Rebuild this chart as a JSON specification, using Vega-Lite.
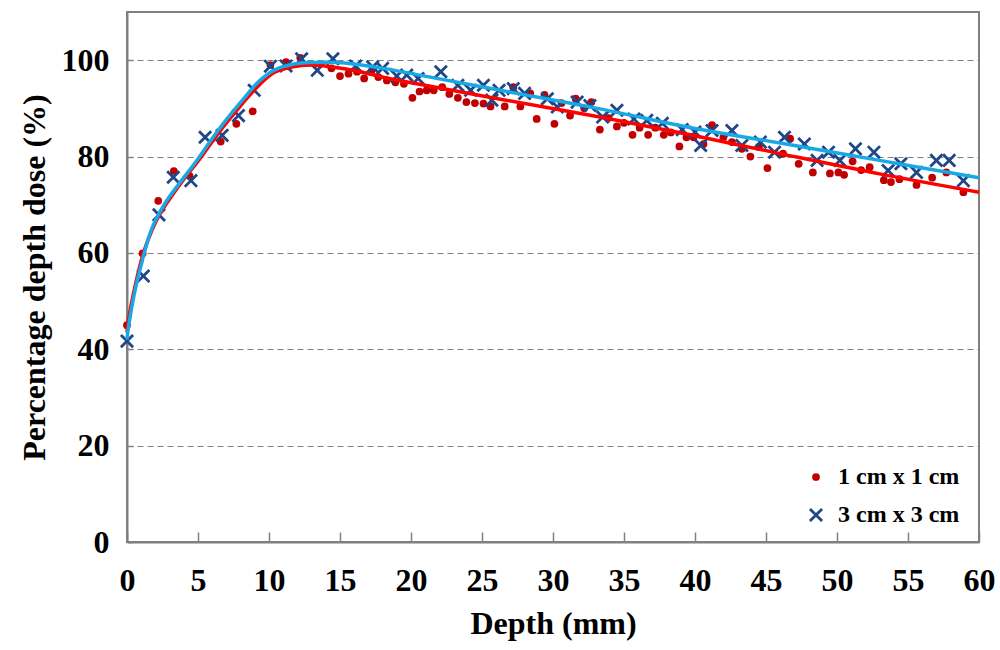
{
  "$schema": "https://vega.github.io/schema/vega-lite/v6.json",
  "width": 852,
  "height": 530,
  "autosize": {"type": "none"},
  "padding": {"left": 127, "top": 12, "right": 21, "bottom": 108},
  "background": "white",
  "config": {
    "font": "Liberation Serif",
    "view": {"stroke": "#808080", "strokeWidth": 2},
    "axis": {
      "labelFont": "Liberation Serif",
      "labelFontWeight": "bold",
      "labelFontSize": 32,
      "labelColor": "black",
      "labelFlush": false,
      "titleFont": "Liberation Serif",
      "titleFontWeight": "bold",
      "titleFontSize": 32,
      "titleColor": "black",
      "domainColor": "#808080",
      "domainWidth": 2,
      "tickColor": "#808080",
      "tickWidth": 1.5
    },
    "legend": {
      "orient": "none",
      "legendX": 677,
      "legendY": 453,
      "labelFont": "Liberation Serif",
      "labelFontWeight": "bold",
      "labelFontSize": 24,
      "labelColor": "black",
      "labelOffset": 10,
      "rowPadding": 14,
      "symbolStrokeWidth": 0
    }
  },
  "datasets": {
    "points": [
      {"depth": 0, "dose": 45, "series": "1 cm x 1 cm"},
      {"depth": 1.1, "dose": 59.9, "series": "1 cm x 1 cm"},
      {"depth": 2.2, "dose": 70.8, "series": "1 cm x 1 cm"},
      {"depth": 3.3, "dose": 77, "series": "1 cm x 1 cm"},
      {"depth": 4.4, "dose": 76, "series": "1 cm x 1 cm"},
      {"depth": 6.6, "dose": 83.1, "series": "1 cm x 1 cm"},
      {"depth": 7.7, "dose": 86.8, "series": "1 cm x 1 cm"},
      {"depth": 8.85, "dose": 89.4, "series": "1 cm x 1 cm"},
      {"depth": 10.1, "dose": 99, "series": "1 cm x 1 cm"},
      {"depth": 11.2, "dose": 99.6, "series": "1 cm x 1 cm"},
      {"depth": 12.2, "dose": 100.5, "series": "1 cm x 1 cm"},
      {"depth": 14.4, "dose": 98.3, "series": "1 cm x 1 cm"},
      {"depth": 15.0, "dose": 96.7, "series": "1 cm x 1 cm"},
      {"depth": 15.6, "dose": 97.2, "series": "1 cm x 1 cm"},
      {"depth": 16.2, "dose": 97.6, "series": "1 cm x 1 cm"},
      {"depth": 16.7, "dose": 96.2, "series": "1 cm x 1 cm"},
      {"depth": 17.2, "dose": 97.6, "series": "1 cm x 1 cm"},
      {"depth": 17.7, "dose": 96.5, "series": "1 cm x 1 cm"},
      {"depth": 18.3, "dose": 95.8, "series": "1 cm x 1 cm"},
      {"depth": 18.9, "dose": 95.4, "series": "1 cm x 1 cm"},
      {"depth": 19.5, "dose": 95.1, "series": "1 cm x 1 cm"},
      {"depth": 20.1, "dose": 92.2, "series": "1 cm x 1 cm"},
      {"depth": 20.6, "dose": 93.5, "series": "1 cm x 1 cm"},
      {"depth": 21.1, "dose": 93.75, "series": "1 cm x 1 cm"},
      {"depth": 21.6, "dose": 93.75, "series": "1 cm x 1 cm"},
      {"depth": 22.2, "dose": 94.4, "series": "1 cm x 1 cm"},
      {"depth": 22.7, "dose": 93, "series": "1 cm x 1 cm"},
      {"depth": 23.3, "dose": 92.2, "series": "1 cm x 1 cm"},
      {"depth": 23.9, "dose": 91.3, "series": "1 cm x 1 cm"},
      {"depth": 24.5, "dose": 91.1, "series": "1 cm x 1 cm"},
      {"depth": 25.1, "dose": 91, "series": "1 cm x 1 cm"},
      {"depth": 25.6, "dose": 90.4, "series": "1 cm x 1 cm"},
      {"depth": 26.6, "dose": 90.4, "series": "1 cm x 1 cm"},
      {"depth": 27.2, "dose": 94.4, "series": "1 cm x 1 cm"},
      {"depth": 27.7, "dose": 90.4, "series": "1 cm x 1 cm"},
      {"depth": 28.4, "dose": 93.1, "series": "1 cm x 1 cm"},
      {"depth": 28.85, "dose": 87.8, "series": "1 cm x 1 cm"},
      {"depth": 29.4, "dose": 92.8, "series": "1 cm x 1 cm"},
      {"depth": 30.1, "dose": 86.8, "series": "1 cm x 1 cm"},
      {"depth": 30.6, "dose": 91.1, "series": "1 cm x 1 cm"},
      {"depth": 31.2, "dose": 88.5, "series": "1 cm x 1 cm"},
      {"depth": 31.6, "dose": 92, "series": "1 cm x 1 cm"},
      {"depth": 32.2, "dose": 90, "series": "1 cm x 1 cm"},
      {"depth": 32.7, "dose": 91.3, "series": "1 cm x 1 cm"},
      {"depth": 33.3, "dose": 85.6, "series": "1 cm x 1 cm"},
      {"depth": 33.9, "dose": 88, "series": "1 cm x 1 cm"},
      {"depth": 34.5, "dose": 86.25, "series": "1 cm x 1 cm"},
      {"depth": 35.0, "dose": 87, "series": "1 cm x 1 cm"},
      {"depth": 35.6, "dose": 84.5, "series": "1 cm x 1 cm"},
      {"depth": 36.1, "dose": 86, "series": "1 cm x 1 cm"},
      {"depth": 36.7, "dose": 84.5, "series": "1 cm x 1 cm"},
      {"depth": 37.2, "dose": 86, "series": "1 cm x 1 cm"},
      {"depth": 37.8, "dose": 84.5, "series": "1 cm x 1 cm"},
      {"depth": 38.3, "dose": 85, "series": "1 cm x 1 cm"},
      {"depth": 38.9, "dose": 82.1, "series": "1 cm x 1 cm"},
      {"depth": 39.4, "dose": 84, "series": "1 cm x 1 cm"},
      {"depth": 39.9, "dose": 84, "series": "1 cm x 1 cm"},
      {"depth": 40.6, "dose": 82.6, "series": "1 cm x 1 cm"},
      {"depth": 41.2, "dose": 86.5, "series": "1 cm x 1 cm"},
      {"depth": 42.0, "dose": 84, "series": "1 cm x 1 cm"},
      {"depth": 42.6, "dose": 83, "series": "1 cm x 1 cm"},
      {"depth": 43.3, "dose": 81.6, "series": "1 cm x 1 cm"},
      {"depth": 43.9, "dose": 80, "series": "1 cm x 1 cm"},
      {"depth": 44.5, "dose": 82, "series": "1 cm x 1 cm"},
      {"depth": 45.1, "dose": 77.6, "series": "1 cm x 1 cm"},
      {"depth": 46.2, "dose": 80.6, "series": "1 cm x 1 cm"},
      {"depth": 46.7, "dose": 83.7, "series": "1 cm x 1 cm"},
      {"depth": 47.3, "dose": 78.5, "series": "1 cm x 1 cm"},
      {"depth": 48.3, "dose": 76.7, "series": "1 cm x 1 cm"},
      {"depth": 49.5, "dose": 76.5, "series": "1 cm x 1 cm"},
      {"depth": 50.1, "dose": 76.7, "series": "1 cm x 1 cm"},
      {"depth": 50.5, "dose": 76.2, "series": "1 cm x 1 cm"},
      {"depth": 51.1, "dose": 79, "series": "1 cm x 1 cm"},
      {"depth": 51.7, "dose": 77.2, "series": "1 cm x 1 cm"},
      {"depth": 52.3, "dose": 77.8, "series": "1 cm x 1 cm"},
      {"depth": 53.3, "dose": 75.1, "series": "1 cm x 1 cm"},
      {"depth": 53.8, "dose": 74.7, "series": "1 cm x 1 cm"},
      {"depth": 54.4, "dose": 75.3, "series": "1 cm x 1 cm"},
      {"depth": 55.6, "dose": 74.1, "series": "1 cm x 1 cm"},
      {"depth": 56.7, "dose": 75.6, "series": "1 cm x 1 cm"},
      {"depth": 57.7, "dose": 76.7, "series": "1 cm x 1 cm"},
      {"depth": 58.9, "dose": 72.6, "series": "1 cm x 1 cm"},
      {"depth": 0, "dose": 41.7, "series": "3 cm x 3 cm"},
      {"depth": 1.15, "dose": 55.2, "series": "3 cm x 3 cm"},
      {"depth": 2.25, "dose": 67.9, "series": "3 cm x 3 cm"},
      {"depth": 3.26, "dose": 75.7, "series": "3 cm x 3 cm"},
      {"depth": 4.5, "dose": 75, "series": "3 cm x 3 cm"},
      {"depth": 5.5, "dose": 84, "series": "3 cm x 3 cm"},
      {"depth": 6.7, "dose": 84.4, "series": "3 cm x 3 cm"},
      {"depth": 7.85, "dose": 88.5, "series": "3 cm x 3 cm"},
      {"depth": 8.96, "dose": 93.75, "series": "3 cm x 3 cm"},
      {"depth": 10.1, "dose": 98.75, "series": "3 cm x 3 cm"},
      {"depth": 11.2, "dose": 98.8, "series": "3 cm x 3 cm"},
      {"depth": 12.3, "dose": 100.3, "series": "3 cm x 3 cm"},
      {"depth": 13.4, "dose": 97.9, "series": "3 cm x 3 cm"},
      {"depth": 14.5, "dose": 100.3, "series": "3 cm x 3 cm"},
      {"depth": 16.1, "dose": 98.8, "series": "3 cm x 3 cm"},
      {"depth": 17.3, "dose": 98.6, "series": "3 cm x 3 cm"},
      {"depth": 18.0, "dose": 98.3, "series": "3 cm x 3 cm"},
      {"depth": 19.0, "dose": 96.7, "series": "3 cm x 3 cm"},
      {"depth": 19.7, "dose": 96.9, "series": "3 cm x 3 cm"},
      {"depth": 20.5, "dose": 96.2, "series": "3 cm x 3 cm"},
      {"depth": 22.1, "dose": 97.6, "series": "3 cm x 3 cm"},
      {"depth": 23.3, "dose": 94.8, "series": "3 cm x 3 cm"},
      {"depth": 24.2, "dose": 93.75, "series": "3 cm x 3 cm"},
      {"depth": 25.1, "dose": 94.8, "series": "3 cm x 3 cm"},
      {"depth": 25.7, "dose": 91.7, "series": "3 cm x 3 cm"},
      {"depth": 26.2, "dose": 93.75, "series": "3 cm x 3 cm"},
      {"depth": 27.2, "dose": 94.1, "series": "3 cm x 3 cm"},
      {"depth": 28.0, "dose": 93.1, "series": "3 cm x 3 cm"},
      {"depth": 29.6, "dose": 92, "series": "3 cm x 3 cm"},
      {"depth": 30.3, "dose": 90.3, "series": "3 cm x 3 cm"},
      {"depth": 31.7, "dose": 91.3, "series": "3 cm x 3 cm"},
      {"depth": 32.6, "dose": 90.6, "series": "3 cm x 3 cm"},
      {"depth": 33.5, "dose": 88.2, "series": "3 cm x 3 cm"},
      {"depth": 34.5, "dose": 89.6, "series": "3 cm x 3 cm"},
      {"depth": 35.7, "dose": 87.8, "series": "3 cm x 3 cm"},
      {"depth": 36.6, "dose": 87.5, "series": "3 cm x 3 cm"},
      {"depth": 37.7, "dose": 86.9, "series": "3 cm x 3 cm"},
      {"depth": 39.1, "dose": 85.6, "series": "3 cm x 3 cm"},
      {"depth": 40.0, "dose": 85.1, "series": "3 cm x 3 cm"},
      {"depth": 40.4, "dose": 82.3, "series": "3 cm x 3 cm"},
      {"depth": 41.2, "dose": 85.4, "series": "3 cm x 3 cm"},
      {"depth": 42.6, "dose": 85.4, "series": "3 cm x 3 cm"},
      {"depth": 43.3, "dose": 82.3, "series": "3 cm x 3 cm"},
      {"depth": 44.6, "dose": 83, "series": "3 cm x 3 cm"},
      {"depth": 45.6, "dose": 80.9, "series": "3 cm x 3 cm"},
      {"depth": 46.3, "dose": 84, "series": "3 cm x 3 cm"},
      {"depth": 47.7, "dose": 82.6, "series": "3 cm x 3 cm"},
      {"depth": 48.6, "dose": 79.2, "series": "3 cm x 3 cm"},
      {"depth": 49.4, "dose": 80.9, "series": "3 cm x 3 cm"},
      {"depth": 50.2, "dose": 79.2, "series": "3 cm x 3 cm"},
      {"depth": 51.3, "dose": 81.6, "series": "3 cm x 3 cm"},
      {"depth": 52.6, "dose": 80.9, "series": "3 cm x 3 cm"},
      {"depth": 53.6, "dose": 77.1, "series": "3 cm x 3 cm"},
      {"depth": 54.5, "dose": 78.5, "series": "3 cm x 3 cm"},
      {"depth": 55.6, "dose": 76.7, "series": "3 cm x 3 cm"},
      {"depth": 57.0, "dose": 79.2, "series": "3 cm x 3 cm"},
      {"depth": 57.9, "dose": 79.2, "series": "3 cm x 3 cm"},
      {"depth": 58.9, "dose": 75, "series": "3 cm x 3 cm"}
    ],
    "fit": [
      {"depth": 0, "dose": 43.5, "series": "1 cm x 1 cm"},
      {"depth": 0.1, "dose": 46, "series": "1 cm x 1 cm"},
      {"depth": 0.56, "dose": 53, "series": "1 cm x 1 cm"},
      {"depth": 1.15, "dose": 59.9, "series": "1 cm x 1 cm"},
      {"depth": 1.74, "dose": 64.6, "series": "1 cm x 1 cm"},
      {"depth": 2.32, "dose": 68.1, "series": "1 cm x 1 cm"},
      {"depth": 3.15, "dose": 71.8, "series": "1 cm x 1 cm"},
      {"depth": 4.08, "dose": 75.6, "series": "1 cm x 1 cm"},
      {"depth": 5.02, "dose": 79.1, "series": "1 cm x 1 cm"},
      {"depth": 5.96, "dose": 82.9, "series": "1 cm x 1 cm"},
      {"depth": 6.9, "dose": 86.6, "series": "1 cm x 1 cm"},
      {"depth": 8.07, "dose": 90.8, "series": "1 cm x 1 cm"},
      {"depth": 9.25, "dose": 94.7, "series": "1 cm x 1 cm"},
      {"depth": 10.4, "dose": 97.5, "series": "1 cm x 1 cm"},
      {"depth": 11.6, "dose": 98.6, "series": "1 cm x 1 cm"},
      {"depth": 13.0, "dose": 99.0, "series": "1 cm x 1 cm"},
      {"depth": 15.9, "dose": 97.9, "series": "1 cm x 1 cm"},
      {"depth": 18.3, "dose": 96.3, "series": "1 cm x 1 cm"},
      {"depth": 20.6, "dose": 95.0, "series": "1 cm x 1 cm"},
      {"depth": 26.3, "dose": 91.9, "series": "1 cm x 1 cm"},
      {"depth": 33.3, "dose": 88.2, "series": "1 cm x 1 cm"},
      {"depth": 40, "dose": 84.3, "series": "1 cm x 1 cm"},
      {"depth": 46, "dose": 80.6, "series": "1 cm x 1 cm"},
      {"depth": 53, "dose": 76.4, "series": "1 cm x 1 cm"},
      {"depth": 60, "dose": 72.6, "series": "1 cm x 1 cm"},
      {"depth": 0, "dose": 42, "series": "3 cm x 3 cm"},
      {"depth": 0.1, "dose": 44.5, "series": "3 cm x 3 cm"},
      {"depth": 0.5, "dose": 51.3, "series": "3 cm x 3 cm"},
      {"depth": 0.92, "dose": 56.6, "series": "3 cm x 3 cm"},
      {"depth": 1.74, "dose": 65.0, "series": "3 cm x 3 cm"},
      {"depth": 2.68, "dose": 70.3, "series": "3 cm x 3 cm"},
      {"depth": 3.73, "dose": 74.6, "series": "3 cm x 3 cm"},
      {"depth": 4.8, "dose": 78.7, "series": "3 cm x 3 cm"},
      {"depth": 5.96, "dose": 83.6, "series": "3 cm x 3 cm"},
      {"depth": 6.9, "dose": 87.3, "series": "3 cm x 3 cm"},
      {"depth": 8.07, "dose": 91.5, "series": "3 cm x 3 cm"},
      {"depth": 9.25, "dose": 95.5, "series": "3 cm x 3 cm"},
      {"depth": 10.4, "dose": 98.0, "series": "3 cm x 3 cm"},
      {"depth": 11.6, "dose": 99.1, "series": "3 cm x 3 cm"},
      {"depth": 13.0, "dose": 99.5, "series": "3 cm x 3 cm"},
      {"depth": 14.8, "dose": 99.5, "series": "3 cm x 3 cm"},
      {"depth": 16.5, "dose": 99.0, "series": "3 cm x 3 cm"},
      {"depth": 18.3, "dose": 98.2, "series": "3 cm x 3 cm"},
      {"depth": 20.6, "dose": 96.9, "series": "3 cm x 3 cm"},
      {"depth": 26.3, "dose": 93.75, "series": "3 cm x 3 cm"},
      {"depth": 33.3, "dose": 89.9, "series": "3 cm x 3 cm"},
      {"depth": 40.4, "dose": 85.6, "series": "3 cm x 3 cm"},
      {"depth": 46, "dose": 82.8, "series": "3 cm x 3 cm"},
      {"depth": 53, "dose": 79.2, "series": "3 cm x 3 cm"},
      {"depth": 60, "dose": 75.6, "series": "3 cm x 3 cm"}
    ]
  },
  "encoding": {
    "x": {
      "field": "depth",
      "type": "quantitative",
      "title": "Depth (mm)",
      "scale": {"domain": [0, 60], "nice": false},
      "axis": {
        "values": [0, 5, 10, 15, 20, 25, 30, 35, 40, 45, 50, 55, 60],
        "grid": false,
        "tickSize": -10,
        "labelPadding": 33,
        "titlePadding": 12
      }
    },
    "y": {
      "field": "dose",
      "type": "quantitative",
      "title": "Percentage depth dose (%)",
      "scale": {"domain": [0, 110], "nice": false},
      "axis": {
        "values": [0, 20, 40, 60, 80, 100],
        "grid": true,
        "gridColor": "#808080",
        "gridDash": [6, 4],
        "gridWidth": 1.2,
        "tickSize": -6,
        "labelPadding": 24,
        "titlePadding": 10
      }
    }
  },
  "layer": [
    {
      "data": {"name": "points"},
      "mark": {"type": "point", "filled": true, "opacity": 1},
      "encoding": {
        "color": {
          "field": "series",
          "type": "nominal",
          "title": null,
          "scale": {"domain": ["1 cm x 1 cm", "3 cm x 3 cm"], "range": ["#C00000", "#1F4788"]}
        },
        "shape": {
          "field": "series",
          "type": "nominal",
          "title": null,
          "scale": {
            "domain": ["1 cm x 1 cm", "3 cm x 3 cm"],
            "range": ["circle", "M-1,-0.72L-0.72,-1L0,-0.28L0.72,-1L1,-0.72L0.28,0L1,0.72L0.72,1L0,0.28L-0.72,1L-1,0.72L-0.28,0Z"]
          }
        },
        "size": {
          "field": "series",
          "type": "nominal",
          "title": null,
          "scale": {"domain": ["1 cm x 1 cm", "3 cm x 3 cm"], "range": [60, 200]}
        }
      }
    },
    {
      "data": {"name": "fit"},
      "transform": [{"filter": "datum.series == '1 cm x 1 cm'"}],
      "mark": {"type": "line", "color": "#FF0000", "strokeWidth": 3.5, "interpolate": "catmull-rom"},
      "encoding": {}
    },
    {
      "data": {"name": "fit"},
      "transform": [{"filter": "datum.series == '3 cm x 3 cm'"}],
      "mark": {"type": "line", "color": "#17A9E6", "strokeWidth": 3.5, "interpolate": "catmull-rom"},
      "encoding": {}
    }
  ]
}
